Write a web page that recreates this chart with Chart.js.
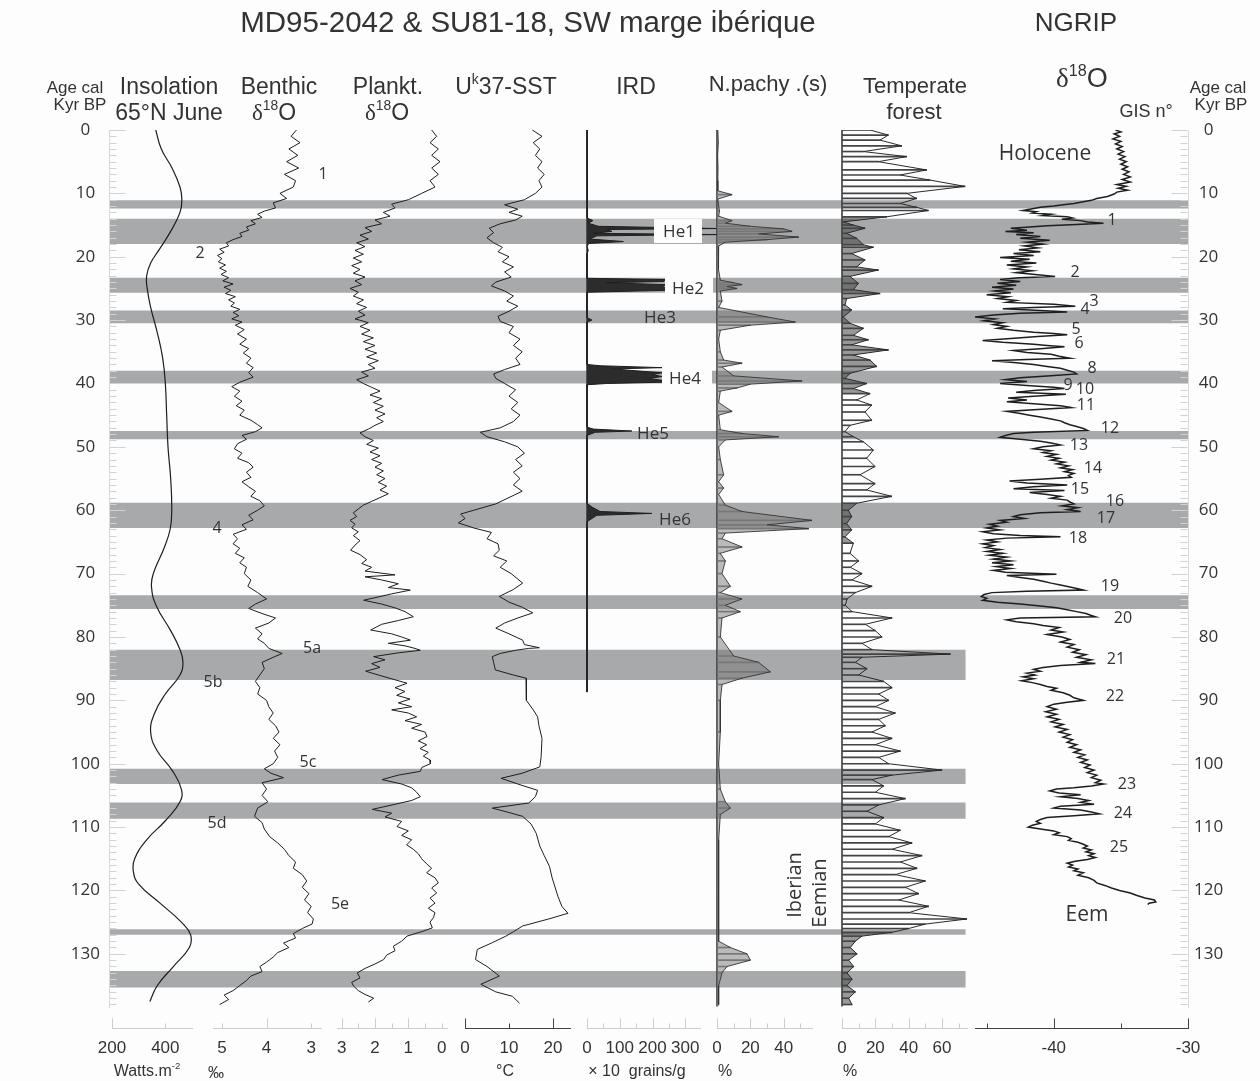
<!DOCTYPE html>
<html><head><meta charset="utf-8">
<script src="https://cdn.jsdelivr.net/npm/chart.js"></script>
<style>
html,body{margin:0;padding:0;background:#fdfdfd;}
#wrap{position:relative;width:1260px;height:1081px;overflow:hidden;background:#fdfdfd;font-family:'Liberation Sans',Arial,sans-serif;color:#333;}
#wrap canvas{position:absolute;left:0;top:0;}
.t{position:absolute;white-space:nowrap;transform:translate(-50%,-50%);line-height:1;}
.t sup{font-size:0.6em;vertical-align:0;position:relative;top:-0.7em;}
.d{font-family:'Liberation Serif','DejaVu Serif',serif;}
.box{position:absolute;background:#fdfdfd;}
.os{font-family:'Open Sans',sans-serif;}
</style></head>
<body><div id="wrap"></div>
<script>
// ---------------- DATA (age in kyr BP, value) ----------------
const ageTicks = Array.from({length:139}, (_, i) => i);
const bandStart = [11.1, 14.0, 23.3, 28.5, 38.0, 47.5, 58.8, 73.4, 82.0, 100.8, 106.1, 126.1, 132.7];
const bandEnd   = [12.4, 18.0, 25.7, 30.5, 40.0, 48.8, 62.8, 75.6, 86.8, 103.2, 108.7, 127.0, 135.3];
const bandFull  = [true, true, true, true, true, true, true, true, false, false, false, false, false];

const insolation = [[0,364],[3,385],[6,425],[9,455],[11,462],[13,455],[16,420],[19,375],[21,345],[23,330],[25,332],[28,345],[32,370],[36,390],[40,400],[45,405],[50,410],[55,420],[60,424],[63,418],[66,395],[70,355],[72,348],[75,365],[79,420],[82,455],[84,466],[86,455],[89,400],[92,360],[95,345],[98,370],[101,425],[104,460],[106,455],[109,400],[112,330],[115,285],[117,280],[119,300],[122,380],[125,460],[127,495],[129,490],[132,430],[135,370],[137.5,342]];

const benthic = [[0,3.33],[1,3.45],[2,3.25],[3,3.5],[4,3.3],[5,3.55],[6,3.28],[7,3.6],[8,3.35],[9,3.4],[10,3.7],[10.8,3.55],[11.5,3.85],[12.3,3.8],[12.8,4.05],[13.3,4.2],[13.8,4.1],[14.3,4.35],[14.8,4.25],[15.3,4.45],[15.8,4.4],[16.3,4.6],[16.8,4.55],[17.3,4.75],[17.8,4.9],[18.3,4.85],[18.8,5.05],[19.3,4.95],[19.8,5.1],[20.3,5.0],[20.8,5.08],[21.3,4.92],[21.8,5.05],[22.3,4.9],[22.8,5.02],[23.3,4.85],[23.8,4.98],[24.3,4.75],[24.8,4.95],[25.3,4.8],[25.8,4.92],[26.3,4.7],[26.8,4.85],[27.3,4.72],[27.8,4.8],[28.3,4.6],[28.8,4.75],[29.3,4.62],[29.8,4.78],[30.3,4.55],[30.8,4.7],[31.5,4.5],[32.2,4.65],[33,4.45],[33.8,4.6],[34.5,4.4],[35.2,4.52],[36,4.35],[36.8,4.45],[37.5,4.3],[38.3,4.4],[39,4.3],[39.8,4.6],[40.5,4.78],[41.2,4.6],[42,4.72],[42.8,4.55],[43.5,4.68],[44.2,4.5],[45,4.6],[45.8,4.35],[46.5,4.2],[47,4.1],[47.6,4.25],[48.2,4.55],[48.8,4.45],[49.5,4.65],[50.3,4.72],[51,4.55],[51.8,4.65],[52.5,4.4],[53.2,4.3],[54,4.45],[54.8,4.35],[55.5,4.55],[56.3,4.4],[57,4.25],[57.8,4.35],[58.5,4.15],[59.3,4.05],[60,4.2],[60.8,4.4],[61.5,4.3],[62.3,4.55],[63,4.45],[63.8,4.75],[64.5,4.65],[65.3,4.75],[66,4.6],[66.8,4.7],[67.5,4.5],[68.3,4.6],[69,4.45],[70,4.5],[71,4.35],[72,4.42],[73,4.2],[74,4.0],[74.8,4.25],[75.5,4.4],[76.3,4.1],[77,3.8],[77.8,3.95],[78.6,4.25],[79.5,4.1],[80.3,4.2],[81,4.05],[81.8,3.95],[82.6,3.65],[83.2,3.85],[84,4.1],[85,4.05],[86,4.15],[87,4.25],[88,4.15],[89,4.2],[90,4.0],[91,3.95],[92,3.85],[93,3.95],[94,3.8],[95,3.72],[96,3.85],[97,3.7],[98,3.82],[99,3.75],[100,3.85],[100.8,4.05],[101.5,3.9],[102.2,3.62],[103,4.1],[104,4.0],[105,4.1],[106,3.97],[107,4.2],[108.3,4.27],[109.3,4.1],[110.3,4.05],[111.5,3.93],[112.5,3.75],[113.5,3.6],[114.5,3.5],[115.5,3.35],[116.5,3.4],[117.5,3.2],[118.5,3.1],[119.5,3.2],[120.5,3.05],[121.5,3.15],[122.5,3.0],[123.5,3.08],[124.5,2.95],[125.3,2.98],[126,3.2],[126.8,3.4],[127.5,3.35],[128.3,3.62],[129,3.5],[129.8,3.75],[130.5,3.85],[131.3,4.0],[132,4.15],[132.8,4.1],[133.5,4.35],[134.2,4.45],[135,4.6],[135.8,4.75],[136.5,4.95],[137.2,4.85],[138,5.05]];

const plankt = [[0,0.3],[1,0.15],[2,0.35],[3,0.1],[4,0.3],[5,0.05],[6,0.3],[7,0.1],[8,0.35],[9,0.2],[10,0.6],[11,1.0],[11.7,1.5],[12.3,1.4],[13,1.75],[13.6,1.55],[14.2,2.0],[14.8,1.8],[15.4,2.3],[16,2.1],[16.6,2.45],[17.2,2.2],[17.8,2.55],[18.4,2.3],[19,2.6],[19.6,2.35],[20.2,2.65],[20.8,2.4],[21.4,2.7],[22,2.45],[22.6,2.65],[23.2,2.3],[23.8,2.6],[24.4,2.4],[25,2.75],[25.6,2.5],[26.2,2.65],[26.8,2.35],[27.4,2.55],[28,2.25],[28.6,2.5],[29.2,2.3],[29.8,2.6],[30.4,2.2],[31,2.45],[31.6,2.15],[32.2,2.4],[32.8,2.05],[33.4,2.35],[34,2.0],[34.6,2.3],[35.2,1.95],[35.8,2.25],[36.4,1.9],[37,2.2],[37.6,2.0],[38.2,2.4],[38.8,2.2],[39.4,2.55],[40,2.35],[40.6,2.1],[41.2,1.85],[41.8,2.15],[42.4,1.8],[43,2.05],[43.6,1.75],[44.2,2.0],[44.8,1.7],[45.4,1.95],[46,1.75],[46.6,2.0],[47.2,2.2],[47.8,2.45],[48.4,2.3],[49,2.05],[49.6,2.25],[50.2,1.9],[50.8,2.15],[51.4,1.85],[52,2.1],[52.6,1.8],[53.2,2.0],[53.8,1.75],[54.4,1.95],[55,1.7],[55.6,1.9],[56.2,1.65],[56.8,1.85],[57.4,1.6],[58,1.85],[58.6,2.1],[59.2,2.35],[59.8,2.5],[60.4,2.65],[61,2.55],[61.6,2.75],[62.2,2.6],[62.8,2.7],[63.4,2.5],[64,2.65],[64.8,2.45],[65.5,2.6],[66.3,2.73],[67,2.45],[67.8,2.25],[68.4,2.4],[69,2.1],[69.6,2.3],[70.2,1.4],[70.5,2.3],[71,1.8],[71.6,1.3],[72.2,1.6],[72.6,0.94],[73.2,1.5],[73.8,2.0],[74.2,2.34],[74.8,1.8],[75.4,1.4],[76,1.1],[76.8,0.85],[77.4,1.3],[78,1.8],[78.9,2.13],[79.5,1.5],[80,1.2],[80.5,0.94],[81,1.6],[81.4,1.1],[81.8,0.8],[82.1,0.64],[82.5,1.3],[83.1,2.04],[83.6,1.7],[84.2,2.1],[84.8,1.85],[85.4,2.28],[86,1.9],[86.6,1.5],[87.3,1.04],[88,1.4],[88.6,1.1],[89.2,1.35],[89.8,0.95],[90.4,1.3],[91,0.9],[91.5,1.5],[92,1.0],[92.6,0.75],[93.2,1.1],[93.8,0.6],[94.4,0.9],[95,0.5],[95.7,0.44],[96.4,0.7],[97,0.45],[97.6,0.65],[98.2,0.4],[98.8,0.55],[99.4,0.35],[100,0.34],[100.6,0.6],[101.2,0.64],[101.8,1.3],[102.5,1.79],[103.2,1.2],[103.8,0.9],[104.5,0.75],[105.2,0.64],[105.8,0.9],[106.4,1.4],[107.2,2.08],[107.8,1.5],[108.4,1.7],[109.1,1.2],[109.9,1.34],[110.6,1.0],[111.3,1.2],[112,0.9],[112.8,1.05],[113.5,0.85],[114.2,0.7],[115,0.6],[115.8,0.45],[116.5,0.3],[117.2,0.45],[118,0.2],[118.8,0.1],[119.6,0.3],[120.4,0.15],[121.2,0.35],[122,0.2],[122.8,0.4],[123.5,0.2],[124.3,0.25],[125,0.35],[125.9,0.28],[126.5,0.6],[127.2,1.04],[128,1.2],[128.8,1.45],[129.5,1.4],[130.2,1.65],[130.9,1.74],[131.6,2.0],[132.3,2.3],[133,2.53],[133.8,2.45],[134.5,2.7],[135.1,2.64],[135.8,2.5],[136.4,2.3],[137,2.04],[137.6,2.2]];

const sst = [[0,15.3],[1,17.5],[2,15.5],[3,17],[4,16],[5,17.5],[6,16.5],[7,18],[8,16.8],[9,17.5],[10,16],[11,13.5],[11.8,9],[12.5,12],[13,10],[13.6,13],[14.2,11.5],[14.8,8],[15.5,5.5],[16.2,6.5],[17,5],[17.8,6.5],[18.5,8.5],[19.2,7.5],[20,10],[20.8,8.5],[21.6,11],[22.4,9],[23.2,10.5],[24,7],[24.6,6],[25.4,9],[26.2,11],[27,9.5],[27.8,12],[28.6,10],[29.4,7.5],[30.2,8],[31,11],[32,10],[33,12.5],[34,11],[35,13],[36,11.5],[37,12.5],[37.8,9],[38.5,6.5],[39.2,7],[40,9],[41,11.5],[42,10],[43,12],[44,10.5],[45,12.5],[46,11],[47,8],[47.7,3.5],[48.4,5],[49.2,9],[50,12],[51,13.5],[52,11.5],[53,13],[54,11],[55,12.5],[56,11],[57,13],[58,10],[59,7],[60,2],[60.6,-1],[61.3,0],[62,-1.5],[62.8,2],[63.5,6],[64.5,5],[65.3,7.5],[66.3,7.8],[67.2,6.5],[68,9.5],[69,8],[70,10.5],[71.5,13.1],[72.5,11],[73.6,7.8],[74.5,10],[75.3,13],[76.2,15.4],[77,12],[77.8,9],[78.6,7],[79.5,10],[80.5,13.1],[81.2,13.5],[81.7,16.9],[81.8,14.5],[82.1,11.5],[82.6,8],[83.1,6.2],[84,6.5],[85.2,6.9],[86,11],[86.5,13.9],[88,14],[90,13.9],[91.5,15.5],[92.6,16.5],[94,16.8],[96,17.5],[98.9,17.3],[100.5,17],[101.5,13],[102.3,8.2],[103.2,12],[104.2,16.5],[105.2,16],[106.2,14.5],[107,6.2],[107.7,10],[108.3,13.1],[109.5,15],[111,16.2],[113,17],[114.5,18],[116.2,19.2],[118,19.8],[120.9,21.1],[122.5,22],[123.6,23.4],[124.5,19],[125.6,13.1],[126.5,11],[127.2,9.3],[128.3,6],[129.3,2.8],[130.9,2.4],[132,5],[133.5,7.8],[134.8,3.6],[136,7],[136.7,10.8],[137.8,12.4]];

const ird = [[0,0],[8.8,0],[9.3,2],[9.7,0],[10.4,2],[10.9,0],[13.9,0],[14.3,18],[14.7,3],[15.2,35],[15.55,400],[15.7,60],[16.0,76],[16.3,20],[16.5,400],[16.7,30],[17.2,8],[17.6,111],[17.9,5],[18.4,0],[19,4],[19.5,0],[23.4,0],[23.6,240],[23.9,235],[24.1,60],[24.4,240],[24.7,230],[25.0,245],[25.3,240],[25.6,0],[29.6,0],[30.0,15],[30.3,0],[37.0,0],[37.2,40],[37.5,229],[37.7,80],[38.0,150],[38.3,229],[38.6,200],[38.9,229],[39.2,190],[39.5,229],[39.8,229],[40.0,60],[40.2,0],[46.9,0],[47.2,20],[47.5,137],[47.7,25],[48.0,10],[48.2,0],[58.9,0],[59.5,15],[60.2,40],[60.5,198],[60.8,30],[61.3,15],[61.8,0],[88.7,0]];
const irdBase = [[0,0],[88.7,0]];

const npachy = [[0,0.5],[2,0.8],[4,0.4],[6,0.6],[8,0.5],[9.6,0.5],[10.2,9],[10.9,0.5],[12,1],[12.8,1.5],[13.6,1],[14.3,9],[14.7,5],[15.2,20],[15.6,40],[16.0,45],[16.4,25],[16.9,49],[17.3,30],[17.7,5],[18.3,1],[20,0.8],[22,1],[23.7,2],[24.1,10],[24.4,15],[24.7,6],[25.0,12],[25.4,2],[27,3],[28,1],[29.5,30],[30.3,47],[30.8,20],[31.6,2],[33,1],[35,2],[36.3,4],[36.8,15],[37.4,3],[38.8,10],[39.6,51],[40.1,20],[40.7,12],[41.2,2],[43,1],[44.4,9],[45,1],[47.3,2],[47.9,15],[48.4,37],[48.9,5],[50,1],[52,2],[54.4,4],[55.5,1],[56.5,4],[57.5,1],[59.2,5],[60.2,15],[61.6,57],[62.3,30],[62.9,55],[63.6,5],[64.5,3],[65.8,15],[66.8,2],[68,5],[70,3],[72,8],[73,2],[74,15],[75,5],[76,14],[77,3],[80,2],[83,10],[84,25],[85.5,32],[86.5,15],[87.5,3],[90,2],[95,2],[100,1],[104,2],[106,5],[107,8],[108,2],[112,1],[120,1],[128,1],[129,8],[130,18],[131,20],[132,6],[133,3],[135,1],[138,1]];
const npachyBase = [[0,0],[138.3,0]];

const forest = [[0,16.8],[0.8,27.8],[1.6,22.8],[2.5,35.8],[3.4,12.8],[4.2,38.8],[5.0,21.8],[6.3,50.8],[7.1,34.8],[7.9,52.8],[8.9,73.8],[10.0,38.8],[10.8,44.8],[11.6,34.8],[12.2,44.8],[12.7,51.8],[13.7,26.8],[14.5,0.8],[15.0,6.8],[15.5,13.8],[16.3,2.8],[17.1,8.8],[18.1,12.8],[18.5,18.8],[19.5,5.8],[20.5,13.8],[21.6,8.8],[22.1,21.8],[23.1,4.8],[24.2,9.8],[25.2,6.8],[25.8,22.8],[26.6,2.8],[27.6,1.8],[28.4,5.8],[29.5,0.8],[30.5,4.8],[31.3,12.8],[32.4,6.8],[33.1,15.8],[33.9,5.8],[34.7,27.8],[35.5,6.8],[36.3,16.8],[37.3,20.8],[38.4,4.8],[39.2,1.8],[40.0,14.8],[40.8,6.8],[41.6,16.8],[42.6,8.8],[43.4,17.8],[44.5,13.8],[45.8,17.8],[46.6,4.8],[47.6,1.8],[48.4,6.8],[49.2,12.8],[50.5,18.8],[51.8,14.8],[53.1,19.8],[54.4,10.8],[55.8,19.8],[56.8,14.8],[57.8,29.8],[58.9,8.8],[60.0,3.8],[61.0,5.8],[62.1,2.8],[63.1,5.8],[64.2,1.8],[65.2,6.8],[66.8,4.8],[68,10],[69,5],[70,12],[71,6],[72,18],[73,8],[74,3],[75,2],[76,6],[77,30],[78,14],[79,20],[80,24],[81,12],[82,18],[82.7,65],[83.2,12],[84,8],[85,15],[86,10],[87,25],[88,30],[89,22],[90,28],[91,20],[92,32],[93,22],[94,26],[95,18],[96,30],[97,20],[98,35],[99,22],[100,28],[101,60],[101.8,30],[102.5,18],[103.5,25],[104.5,20],[105.5,38],[106.5,22],[107.5,15],[108.5,25],[109.5,20],[110.5,35],[111.5,28],[112.5,42],[113.5,30],[114.5,48],[115.5,35],[116.5,45],[117.5,32],[118.5,50],[119.5,38],[120.5,46],[121.5,34],[122.5,52],[123.5,40],[124.5,75],[125.3,50],[126,40],[126.6,30],[127.2,12],[128,8],[129,5],[130,9],[131,4],[132,7],[133,3],[134,6],[135,3],[136,8],[137,4],[138,6]];
const forestBase = [[0,0],[138.3,0]];
const forestDense = [[13.5,42],[58.5,66],[126.5,138.5]];

const ngrip = [[0,-35.4],[0.3,-35.0],[0.6,-35.5],[1,-35.1],[1.4,-35.6],[1.8,-35.0],[2.2,-35.4],[2.6,-34.9],[3,-35.3],[3.4,-34.8],[3.8,-35.2],[4.2,-34.7],[4.6,-35.1],[5,-34.6],[5.4,-35.0],[5.8,-34.5],[6.2,-34.9],[6.6,-34.4],[7,-34.8],[7.4,-34.3],[7.8,-34.9],[8.2,-34.3],[8.6,-35.3],[8.9,-34.6],[9.2,-35.2],[9.5,-34.5],[9.8,-35.3],[10.1,-35.5],[10.5,-36.0],[10.8,-36.8],[11.1,-37.2],[11.4,-38.0],[11.6,-38.5],[11.8,-39.3],[12.0,-40.0],[12.2,-41.0],[12.5,-41.8],[12.7,-42.3],[12.9,-41.3],[13.1,-41.6],[13.3,-40.2],[13.5,-40.8],[13.7,-39.0],[13.9,-38.6],[14.1,-39.4],[14.3,-38.0],[14.5,-37.5],[14.7,-36.3],[14.9,-38.3],[15.1,-40.5],[15.3,-41.8],[15.5,-43.2],[15.8,-42.0],[16.0,-43.6],[16.2,-41.5],[16.5,-42.8],[16.8,-41.0],[17.1,-42.5],[17.4,-40.3],[17.7,-42.0],[18.0,-40.8],[18.3,-42.2],[18.6,-41.2],[18.9,-42.6],[19.2,-41.0],[19.5,-43.0],[19.8,-41.5],[20.1,-44.0],[20.4,-41.8],[20.7,-43.2],[21.0,-41.3],[21.3,-43.5],[21.6,-42.0],[21.9,-43.0],[22.2,-41.6],[22.5,-42.8],[22.8,-41.4],[23.1,-39.9],[23.3,-42.6],[23.6,-44.0],[23.9,-42.5],[24.2,-44.2],[24.5,-42.8],[24.8,-44.6],[25.1,-43.0],[25.4,-44.4],[25.7,-43.2],[26.0,-45.0],[26.3,-43.4],[26.6,-44.2],[26.9,-42.8],[27.2,-43.5],[27.5,-40.0],[27.8,-38.4],[28.0,-41.5],[28.2,-43.8],[28.5,-41.0],[28.7,-39.0],[28.9,-42.5],[29.2,-44.5],[29.5,-45.9],[29.8,-44.4],[30.1,-45.2],[30.4,-43.8],[30.7,-44.5],[31.0,-43.5],[31.3,-44.2],[31.6,-43.0],[31.9,-41.5],[32.1,-40.0],[32.3,-39.0],[32.6,-41.2],[32.9,-43.2],[33.2,-45.3],[33.5,-43.8],[33.8,-41.5],[34.0,-40.5],[34.2,-39.2],[34.5,-41.0],[34.8,-43.0],[35.1,-42.0],[35.4,-40.2],[35.7,-39.6],[36.0,-38.8],[36.2,-42.0],[36.4,-44.6],[36.7,-43.0],[37.0,-41.5],[37.3,-40.5],[37.6,-39.5],[37.9,-39.0],[38.2,-38.5],[38.5,-38.3],[38.8,-40.5],[39.1,-42.5],[39.4,-43.6],[39.7,-42.0],[40.0,-44.0],[40.3,-42.0],[40.6,-40.0],[40.8,-39.2],[41.1,-41.5],[41.4,-42.8],[41.7,-39.1],[42.0,-41.5],[42.3,-43.4],[42.6,-42.0],[42.9,-43.5],[43.2,-41.5],[43.5,-39.5],[43.8,-38.7],[44.1,-41.2],[44.4,-43.5],[44.7,-42.6],[45.0,-41.8],[45.3,-41.0],[45.6,-40.2],[45.9,-39.5],[46.2,-39.2],[46.5,-38.8],[46.8,-38.3],[47.1,-37.8],[47.4,-37.5],[47.7,-41.5],[47.9,-43.0],[48.2,-43.6],[48.5,-44.0],[48.8,-42.5],[49.1,-41.0],[49.4,-40.2],[49.7,-39.5],[50.0,-40.8],[50.3,-41.5],[50.6,-40.2],[50.9,-40.8],[51.2,-39.8],[51.5,-40.5],[51.8,-39.6],[52.1,-40.2],[52.4,-39.2],[52.7,-39.8],[53.0,-38.9],[53.3,-39.5],[53.6,-38.6],[53.9,-39.2],[54.2,-38.5],[54.5,-38.9],[54.8,-38.7],[55.1,-41.0],[55.4,-43.3],[55.7,-42.0],[56.0,-39.0],[56.3,-41.5],[56.6,-43.0],[56.9,-39.2],[57.2,-41.8],[57.5,-40.5],[57.8,-39.5],[58.1,-40.2],[58.4,-39.0],[58.7,-38.8],[59.0,-38.5],[59.3,-39.4],[59.6,-38.2],[59.9,-39.0],[60.2,-38.0],[60.4,-41.0],[60.7,-42.5],[61.0,-43.0],[61.3,-42.2],[61.6,-44.0],[61.9,-43.5],[62.2,-44.8],[62.5,-44.2],[62.8,-45.0],[63.1,-44.0],[63.4,-45.3],[63.7,-44.5],[64.0,-42.5],[64.2,-39.5],[64.4,-43.5],[64.7,-45.0],[65.0,-44.2],[65.3,-45.3],[65.6,-44.5],[65.9,-45.1],[66.2,-44.0],[66.5,-45.0],[66.8,-43.8],[67.1,-44.8],[67.4,-43.5],[67.7,-44.5],[68.0,-43.2],[68.3,-44.6],[68.6,-43.0],[68.9,-44.3],[69.2,-43.2],[69.5,-44.5],[69.8,-43.6],[70.1,-39.8],[70.3,-43.5],[70.6,-42.5],[70.9,-41.5],[71.2,-40.8],[71.5,-40.2],[71.8,-39.5],[72.1,-38.8],[72.4,-38.2],[72.6,-37.8],[72.8,-42.0],[73.0,-44.6],[73.3,-45.2],[73.6,-45.4],[73.9,-45.0],[74.2,-45.3],[74.5,-44.2],[74.8,-42.5],[75.1,-41.0],[75.4,-39.8],[75.7,-39.0],[76.0,-38.3],[76.3,-37.6],[76.6,-37.2],[76.8,-36.9],[77.0,-42.5],[77.3,-43.5],[77.6,-42.8],[77.9,-41.5],[78.2,-40.8],[78.5,-39.6],[78.9,-40.2],[79.2,-39.3],[79.6,-40.5],[80.0,-39.4],[80.4,-38.8],[80.8,-39.5],[81.2,-38.5],[81.6,-39.0],[82.0,-38.1],[82.4,-38.6],[82.8,-37.6],[83.2,-38.3],[83.6,-37.2],[84.0,-38.0],[84.2,-36.9],[84.5,-39.5],[84.8,-40.8],[85.1,-41.5],[85.4,-41.0],[85.7,-42.0],[86.0,-41.4],[86.3,-42.3],[86.6,-41.5],[86.9,-42.4],[87.2,-41.6],[87.5,-41.0],[87.8,-40.5],[88.1,-39.8],[88.4,-40.2],[88.8,-39.3],[89.2,-38.8],[89.6,-38.5],[90.0,-37.8],[90.3,-39.0],[90.6,-40.0],[91.0,-40.5],[91.4,-39.8],[91.8,-40.6],[92.2,-39.8],[92.6,-40.5],[93.0,-39.6],[93.4,-40.2],[93.8,-39.3],[94.2,-39.9],[94.6,-39.0],[95.0,-39.6],[95.4,-38.8],[95.8,-39.3],[96.2,-38.6],[96.6,-39.0],[97.0,-38.3],[97.4,-38.8],[97.8,-38.0],[98.2,-38.5],[98.6,-37.7],[99.0,-38.2],[99.4,-37.5],[99.8,-38.0],[100.2,-37.3],[100.6,-37.7],[101.0,-37.0],[101.4,-37.5],[101.8,-36.8],[102.2,-37.2],[102.6,-36.5],[103.0,-36.9],[103.2,-36.3],[103.5,-37.2],[103.8,-38.5],[104.0,-39.8],[104.3,-40.3],[104.6,-39.6],[104.9,-38.0],[105.2,-39.5],[105.5,-38.2],[105.8,-37.4],[106.1,-38.0],[106.4,-37.0],[106.7,-39.5],[107.0,-40.0],[107.3,-38.0],[107.6,-37.2],[107.9,-36.6],[108.2,-38.5],[108.5,-40.5],[108.8,-41.0],[109.1,-41.3],[109.4,-41.0],[109.7,-41.6],[110.0,-41.9],[110.3,-41.0],[110.6,-40.0],[110.9,-39.6],[111.2,-40.0],[111.5,-39.0],[111.8,-38.7],[112.1,-38.9],[112.4,-38.2],[112.7,-37.8],[113.0,-37.5],[113.3,-37.8],[113.6,-37.2],[113.9,-37.6],[114.2,-37.0],[114.5,-37.4],[114.8,-36.9],[115.1,-37.5],[115.4,-38.4],[115.7,-39.0],[116.0,-38.6],[116.3,-38.9],[116.6,-38.2],[116.9,-38.5],[117.2,-37.8],[117.6,-38.2],[118.0,-37.4],[118.4,-37.0],[118.8,-36.8],[119.2,-36.2],[119.6,-35.7],[120.0,-35.1],[120.4,-34.3],[120.8,-33.8],[121.2,-33.2],[121.5,-32.5],[121.8,-32.4],[122.0,-32.9],[122.2,-33.0]];

// ---------------- LAYOUT CONSTANTS ----------------
const W = 1260, H = 1081, TOP = 130, YMAX = 141.7, AGE_MAX = 138.4;
const BAND_LEFT = 109, BAND_RIGHT = 1188, BAND_SHORT = 0.794;
const BAND_COLOR = '#a8a9ab';
const wrap = document.getElementById('wrap');

function mk() {
  const c = document.createElement('canvas');
  c.width = W; c.height = H; c.style.width = W + 'px'; c.style.height = H + 'px';
  wrap.appendChild(c); return c;
}
const pts = arr => arr.map(([a, v]) => ({x: v, y: a}));
function base(pad) {
  return {responsive:false, maintainAspectRatio:false, animation:false, devicePixelRatio:1, events:[],
    layout:{padding:pad}, plugins:{legend:{display:false}, tooltip:{enabled:false}},
    elements:{point:{radius:0}, line:{borderWidth:1, borderColor:'#1e1e1e', tension:0}}};
}
function tickMarks(m) {
  return {id:'tickMarks', afterDraw(chart) {
    const s = chart.scales[m.axis], ctx = chart.ctx;
    ctx.save(); ctx.strokeStyle = m.color; ctx.lineWidth = 1;
    for (const t of s.ticks) {
      const p = Math.round(s.getPixelForValue(t.value)) + 0.5;
      const len = m.isMajor(t.value) ? m.long : m.short;
      ctx.beginPath();
      if (m.axis === 'x') { const y0 = Math.round(s.top) + 0.5; ctx.moveTo(p, y0); ctx.lineTo(p, y0 - len); }
      else if (s.position === 'left') { const x0 = Math.round(s.right) + 0.5; ctx.moveTo(x0, p); ctx.lineTo(x0 + len, p); }
      else { const x0 = Math.round(s.left) - 0.5; ctx.moveTo(x0, p); ctx.lineTo(x0 - len, p); }
      ctx.stroke();
    }
    ctx.restore();
  }};
}

// ---------------- BANDS ----------------
(function () {
  const ds = [];
  bandStart.forEach((s, i) => {
    const w = bandFull[i] ? 1 : BAND_SHORT;
    ds.push({data:[{x:0, y:s}, {x:w, y:s}], borderWidth:0, pointRadius:0, fill:'+1', backgroundColor:BAND_COLOR});
    ds.push({data:[{x:0, y:bandEnd[i]}, {x:w, y:bandEnd[i]}], borderWidth:0, pointRadius:0, fill:false});
  });
  const o = base({left:BAND_LEFT, right:W - BAND_RIGHT, top:TOP, bottom:53});
  o.scales = {x:{type:'linear', display:false, min:0, max:1}, y:{type:'linear', display:false, reverse:true, min:0, max:YMAX}};
  new Chart(mk(), {type:'line', data:{datasets:ds}, options:o});
})();

// ---------------- AGE AXES ----------------
function ageAxis(side) {
  const o = base({left: side === 'left' ? BAND_LEFT - 60 : 0, right: side === 'left' ? 0 : W - BAND_RIGHT - 60, top:TOP, bottom:H - 1007});
  o.scales = {
    x:{type:'linear', display:false, min:0, max:1},
    y:{type:'linear', position:side, reverse:true, min:0, max:AGE_MAX, bounds:'data',
       afterFit(s) { s.width = 60; },
       afterBuildTicks(s) { s.ticks = ageTicks.map(v => ({value:v})); },
       ticks:{autoSkip:false, padding: side === 'left' ? 9 : 6, crossAlign:'center', color:'#333',
              font:{family:'Open Sans', size:17}, callback: v => (v % 10 === 0 ? String(v) : '')},
       grid:{display:false, drawTicks:false}, border:{display:true, color:'#dadada', width:1}}
  };
  new Chart(mk(), {type:'line', data:{datasets:[]}, options:o,
    plugins:[tickMarks({axis:'y', color:'#d2d2d2', long:16, short:7, isMajor: v => v % 10 === 0})]});
}
ageAxis('left');
ageAxis('right');

// ---------------- PANELS ----------------
function panel(p) {
  const o = base({left:p.left, right:W - p.right, top:TOP, bottom:0});
  o.indexAxis = 'y';
  o.scales = {
    x:{type:'linear', position:'bottom', min:p.min, max:p.max, reverse:!!p.reverse, bounds:'data',
       afterFit(s) { s.height = 53; },
       afterBuildTicks(s) { s.ticks = p.ticks.map(v => ({value:v})); },
       ticks:{autoSkip:false, maxRotation:0, padding:10, color:'#333', font:{size:17},
              callback: v => (p.labels.includes(v) ? String(v) : '')},
       grid:{display:false, drawTicks:false}, border:{display:true, color:p.color, width:1}},
    y:{type:'linear', display:false, reverse:true, min:0, max:YMAX, offset:false}
  };
  new Chart(mk(), {type:'line', data:{datasets:p.datasets}, options:o,
    plugins:[tickMarks({axis:'x', color:p.color, long:10, short:5, isMajor: v => p.major.includes(v)})]});
}
const curve = (arr, extra) => Object.assign({type:'line', data:pts(arr), borderColor:'#1e1e1e', borderWidth:1, pointRadius:0, fill:false, order:0}, extra || {});
const baseline = arr => ({type:'line', data:pts(arr), borderColor:'#3c3c3c', borderWidth:1.6, pointRadius:0, fill:false, clip:false, order:5});
const bars = (arr, color) => ({type:'bar', data:pts(arr), backgroundColor:color, borderWidth:0, barThickness:1, order:3});
const inDense = a => forestDense.some(([s, e]) => a >= s && a <= e);

panel({left:112, right:192, min:200, max:500, ticks:[200,400], labels:[200,400], major:[200], color:'#cdcdcd',
  datasets:[curve(insolation, {tension:0.45, borderWidth:1.2})]});
panel({left:213, right:321, min:2.78, max:5.2, reverse:true, ticks:[5,4,3], labels:[5,4,3], major:[4], color:'#cdcdcd',
  datasets:[curve(benthic)]});
panel({left:337, right:447, min:-0.16, max:3.14, reverse:true, ticks:[3,2.5,2,1.5,1,0.5,0], labels:[3,2,1,0], major:[3,2,1], color:'#cdcdcd',
  datasets:[curve(plankt)]});
panel({left:465, right:570, min:0, max:23.86, ticks:[0,10,20], labels:[0,10,20], major:[0,20], color:'#444',
  datasets:[curve(sst, {clip:false})]});
panel({left:587, right:700, min:0, max:345, ticks:[0,50,100,150,200,250,300], labels:[0,100,200,300], major:[0,100,200,300], color:'#cdcdcd',
  datasets:[baseline(irdBase), curve(ird, {fill:'origin', backgroundColor:'#2c2c2c', clip:false, order:1})]});
panel({left:717, right:812, min:0, max:57, ticks:[0,10,20,30,40,50], labels:[0,20,40], major:[0,20,40], color:'#cdcdcd',
  datasets:[baseline(npachyBase), bars(npachy, '#777'), curve(npachy, {fill:'origin', backgroundColor:'rgba(120,120,120,0.5)', borderColor:'#333', borderWidth:0.9, order:1})]});
panel({left:842, right:967, min:0, max:75, ticks:[0,10,20,30,40,50,60,70], labels:[0,20,40,60], major:[0,20,40,60], color:'#cdcdcd',
  datasets:[baseline(forestBase), bars(forest, '#444'),
    curve(forest, {fill:'origin', backgroundColor:'rgba(0,0,0,0)', borderColor:'#2a2a2a', borderWidth:1, order:1,
      segment:{backgroundColor: c => (inDense(c.p0.parsed.y) && inDense(c.p1.parsed.y) ? 'rgba(70,70,70,0.55)' : 'rgba(0,0,0,0)')}})]});
panel({left:975, right:1188, min:-45.87, max:-30, ticks:[-45,-40,-35,-30], labels:[-40,-30], major:[-40,-30], color:'#444',
  datasets:[curve(ngrip, {borderWidth:1.5, borderColor:'#1e1e1e'})]});

// ---------------- TEXT ----------------
function txt(html, x, y, size, cls, rot) {
  const d = document.createElement('div');
  d.className = 't' + (cls ? ' ' + cls : '');
  d.innerHTML = html;
  d.style.left = x + 'px'; d.style.top = y + 'px'; d.style.fontSize = size + 'px';
  if (rot) d.style.transform = 'translate(-50%,-50%) rotate(' + rot + 'deg)';
  wrap.appendChild(d);
}
function box(x0, y0, x1, y1) {
  const d = document.createElement('div');
  d.className = 'box';
  d.style.left = x0 + 'px'; d.style.top = y0 + 'px'; d.style.width = (x1 - x0) + 'px'; d.style.height = (y1 - y0) + 'px';
  wrap.appendChild(d);
}
const D18 = '<span class="d">δ</span><sup>18</sup>O';
txt('MD95-2042 &amp; SU81-18, SW marge ibérique', 528, 22, 29.5);
txt('NGRIP', 1076, 22, 26);
txt('Age cal', 75, 87, 17); txt('Kyr BP', 80, 104, 17);
txt('Age cal', 1218, 87, 17); txt('Kyr BP', 1221, 104, 17);
txt('Insolation', 169, 86, 23); txt('65°N June', 169, 112, 23);
txt('Benthic', 279, 86, 23); txt(D18, 274, 112, 23);
txt('Plankt.', 388, 86, 23); txt(D18, 387, 112, 23);
txt('U<sup>k</sup>37-SST', 506, 86, 23);
txt('IRD', 636, 86, 23);
txt('N.pachy .(s)', 768, 84, 22);
txt('Temperate', 915, 86, 22); txt('forest', 914, 112, 22);
txt(D18, 1082, 78, 27);
txt('GIS n°', 1146, 111, 18);
// units
txt('Watts.m<sup>-2</sup>', 147, 1071, 16);
txt('‰', 216, 1073, 16);
txt('°C', 505, 1071, 16);
txt('× 10&nbsp;&nbsp;grains/g', 637, 1071, 16);
txt('%', 725, 1071, 16);
txt('%', 850, 1071, 16);
// benthic stage labels
[['1',323,173],['2',200,252],['4',217,527],['5a',312,647],['5b',213,681],['5c',308,761],['5d',217,822],['5e',340,903]]
  .forEach(([s, x, y]) => txt(s, x, y, 16, 'os'));
// Heinrich events
box(654, 219, 702, 243); box(665, 277, 713, 293); box(662, 368, 712, 384);
[['He1',679,230],['He2',688,287],['He3',660,316],['He4',685,377],['He5',653,432],['He6',675,518]]
  .forEach(([s, x, y]) => txt(s, x, y, 17, 'os'));
// GIS numbers
[['1',1112,219],['2',1075,271],['3',1094,300],['4',1085,308],['5',1076,328],['6',1079,342],['8',1092,367],['9',1068,384],['10',1085,388],
 ['11',1086,404],['12',1110,427],['13',1079,444],['14',1093,467],['15',1080,488],['16',1115,500],['17',1106,517],['18',1078,537],
 ['19',1110,585],['20',1123,617],['21',1116,658],['22',1115,695],['23',1127,783],['24',1123,812],['25',1119,846]]
  .forEach(([s, x, y]) => txt(s, x, y, 16, 'os'));
txt('Holocene', 1045, 152, 21, 'os');
txt('Eem', 1087, 913, 21, 'os');
txt('Iberian', 794, 885, 20, 'os', -90);
txt('Eemian', 819, 893, 20, 'os', -90);
</script>
</body></html>
